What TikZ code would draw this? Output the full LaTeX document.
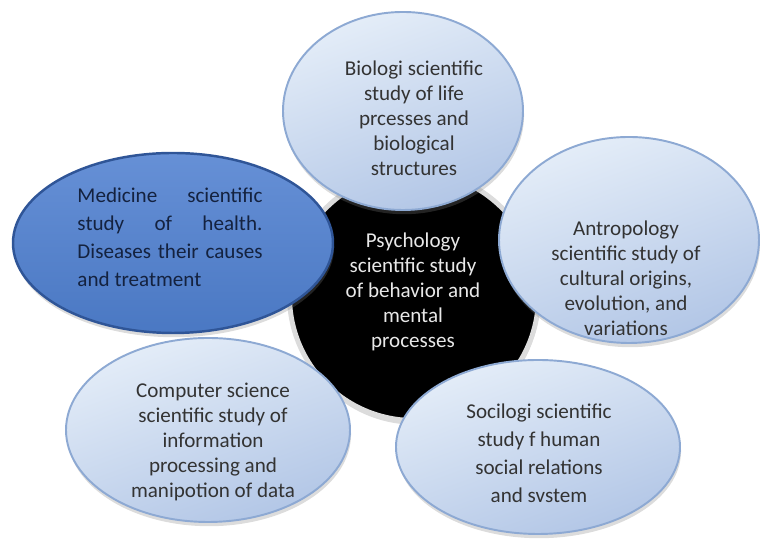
\documentclass[tikz,border=0pt]{standalone}
\usepackage{fontspec}
\setmainfont{Carlito}
\usetikzlibrary{shapes.geometric,shadows}
\definecolor{scpale}{HTML}{E4EDF8}
\definecolor{scmid}{HTML}{B2C6E6}
\definecolor{scedge}{HTML}{8DA9D3}
\definecolor{scdeeptop}{HTML}{6690D6}
\definecolor{scdeep}{HTML}{4A78C3}
\definecolor{scnavy}{HTML}{2F5597}
\definecolor{scring}{HTML}{DCDCDC}
\definecolor{scink}{HTML}{333333}
\definecolor{scdark}{HTML}{14223F}
\definecolor{sclight}{HTML}{E8E8E8}

\begin{document}
\begin{tikzpicture}[
  x=1cm, y=1cm,
  every node/.style={inner sep=0pt, outer sep=0pt},
  shade/.style={drop shadow={shadow xshift=0.6pt, shadow yshift=-2.4pt, opacity=0.28}},
  blob/.style={ellipse, shade, draw=scedge, line width=1.1pt,
               top color=scpale, bottom color=scmid, shading angle=20},
  blobdk/.style={ellipse, shade, draw=scnavy, line width=1.4pt,
                 top color=scdeeptop, bottom color=scdeep},
  core/.style={circle, shade, fill=black, draw=scring, line width=2.8pt},
  txt/.style={align=center, text=scink, font=\fontsize{12}{14.2}\selectfont},
]
\useasboundingbox (0,0) rectangle (15.2,10.86);

% black hub sits behind the five ovals
\node[core, minimum size=4.98cm] (psy) at (8.28,4.94) {};

% pale ovals: name / centre / width / height
\foreach \n/\x/\y/\w/\h in {bio/8.06/8.64/4.80/3.96, ant/12.58/6.06/5.20/4.12,
                            soc/10.76/1.92/5.68/3.48, com/4.16/2.26/5.68/3.68}{
  \node[blob, minimum width=\w cm, minimum height=\h cm] (\n) at (\x,\y) {};
}
% the one dark oval on the left
\node[blobdk, minimum width=6.40cm, minimum height=3.60cm] (med) at (3.46,6.00) {};

% ---------- texts ----------
\node[txt, text=sclight] (psy-t) at (8.26,5.02)
  {Psychology\\scientific study\\of behavior and\\mental\\processes};
\node[txt] (bio-t) at (8.28,8.50)
  {Biologi scientific\\study of life\\prcesses and\\biological\\structures};
\node[txt] (ant-t) at (12.52,5.30)
  {Antropology\\scientific study of\\cultural origins,\\evolution, and\\variations};
\node[txt] (com-t) at (4.26,2.02)
  {Computer science\\scientific study of\\information\\processing and\\manipotion of data};
\node[txt, font=\fontsize{12}{15.9}\selectfont] (soc-t) at (10.78,1.80)
  {Socilogi scientific\\study f human\\social relations\\and svstem};
\node[txt, text=scdark, align=justify, text width=3.7cm,
      font=\fontsize{12}{15.9}\selectfont] (med-t) at (3.40,6.12)
  {Medicine scientific\linebreak study of health.\linebreak
   Diseases their causes\linebreak and treatment};

\end{tikzpicture}
\end{document}
